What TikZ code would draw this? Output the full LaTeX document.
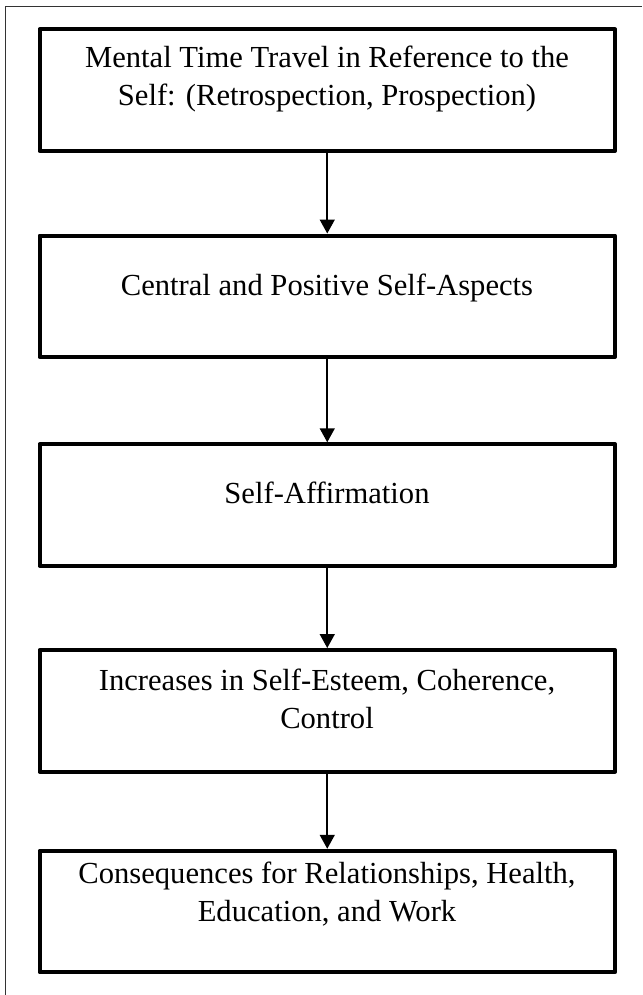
\documentclass[tikz,border=0pt]{standalone}
\usepackage{fontspec}
\setmainfont{Liberation Serif}
\usetikzlibrary{arrows.meta}
\begin{document}
\begin{tikzpicture}[x=1pt,y=-1pt,
  box/.style={draw=black,line width=4pt,line join=round,rectangle,
    minimum width=575.5pt,minimum height=121.5pt,inner sep=0pt},
  txt/.style={anchor=base,inner sep=0pt,font=\fontsize{30.6pt}{38pt}\selectfont},
  conn/.style={draw=black,line width=1.6pt,-{Triangle[width=15pt,length=14pt]}},
  frame/.style={draw=black!80,line width=1pt}]
\useasboundingbox (0,0) rectangle (642,995);
\fill[white] (0,0) rectangle (642,995);
\coordinate (fb) at (5,995);
\coordinate (fc) at (5,7);
\coordinate (fr) at (642,7);
\draw[frame] (fb) -- (fc) -- (fr);
\node[box] (b1) at (327.25,90.25) {};
\node[box] (b2) at (327.25,296.25) {};
\node[box] (b3) at (327.25,505) {};
\node[box] (b4) at (327.25,710.75) {};
\node[box] (b5) at (327.25,911.5) {};
\node[txt] (t1a) at (327,68) {Mental Time Travel in Reference to the};
\node[txt] (t1b) at (327,106) {Self: (Retrospection, Prospection)};
\node[txt] (t2) at (327,295) {Central and Positive Self-Aspects};
\node[txt] (t3) at (327,503) {Self-Affirmation};
\node[txt] (t4a) at (327,690) {Increases in Self-Esteem, Coherence,};
\node[txt] (t4b) at (327,728) {Control};
\node[txt] (t5a) at (327,883) {Consequences for Relationships, Health,};
\node[txt] (t5b) at (327,921) {Education, and Work};
\draw[conn] (b1.south) -- (b2.north);
\draw[conn] (b2.south) -- (b3.north);
\draw[conn] (b3.south) -- (b4.north);
\draw[conn] (b4.south) -- (b5.north);
\end{tikzpicture}
\end{document}
